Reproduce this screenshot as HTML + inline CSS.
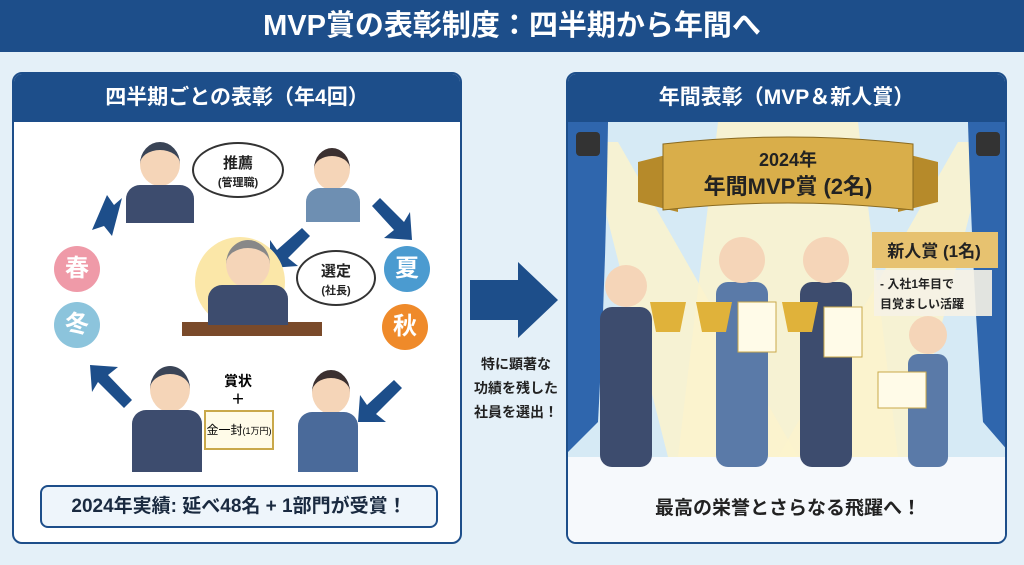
<!DOCTYPE html><html><head><meta charset="utf-8"><style>
*{margin:0;padding:0;box-sizing:border-box}
body{width:1024px;height:565px;background:#e4f0f8;font-family:"Liberation Sans","Noto Sans CJK JP",sans-serif;position:relative;overflow:hidden}
.abs{position:absolute}
.title{left:0;top:0;width:1024px;height:52px;background:#1d4e8a;color:#fff;font-size:29px;font-weight:bold;text-align:center;line-height:52px}
.panel{background:#fff;border:2px solid #1d4e8a;border-radius:10px;overflow:hidden}
.ph{background:#1d4e8a;color:#fff;font-size:21px;font-weight:bold;text-align:center;height:48px;line-height:48px}
.circ{border-radius:50%;color:#fff;font-size:24px;font-weight:bold;text-align:center;width:46px;height:46px;line-height:46px}
.bub{background:#fff;border:2px solid #333;border-radius:50%;text-align:center;font-weight:bold;font-size:15px;color:#222}
.head{background:#f5d5b8;border-radius:50%;border-top:8px solid #3a4456}
.suit{background:#3d4c6e;border-radius:14px 14px 0 0}
</style></head><body>
<div class="abs title">MVP賞の表彰制度：四半期から年間へ</div>

<div class="abs panel" style="left:12px;top:72px;width:450px;height:472px">
<div class="ph">四半期ごとの表彰（年4回）</div>
</div>
<svg class="abs" style="left:12px;top:120px" width="450" height="420">
<g fill="#1d4e8a">
<polygon points="80,110 95,75 102,85 110,78 100,116 92,106"/>
<polygon points="368,78 392,102 398,92 400,120 372,118 382,110 360,86"/>
<polygon points="290,108 265,130 258,120 258,148 286,146 276,138 298,116"/>
<polygon points="382,260 355,285 348,275 346,302 374,302 364,294 390,268"/>
<polygon points="112,288 86,262 80,272 78,245 106,247 96,255 120,280"/>
</g>
<circle cx="228" cy="162" r="45" fill="#fbe7a8"/>
<rect x="170" y="202" width="140" height="14" fill="#7a4a2a"/>
</svg>
<div class="abs head" style="left:140px;top:142px;width:40px;height:44px"></div>
<div class="abs suit" style="left:126px;top:185px;width:68px;height:38px"></div>
<div class="abs head" style="left:314px;top:148px;width:36px;height:42px;border-top-color:#3b3030"></div>
<div class="abs suit" style="left:306px;top:188px;width:54px;height:34px;background:#6e8fb2"></div>
<div class="abs head" style="left:226px;top:240px;width:44px;height:48px;border-top-color:#888"></div>
<div class="abs suit" style="left:208px;top:285px;width:80px;height:40px"></div>
<div class="abs bub" style="left:192px;top:142px;width:92px;height:56px;padding-top:8px">推薦<br><span style="font-size:11px">(管理職)</span></div>
<div class="abs bub" style="left:296px;top:250px;width:80px;height:56px;padding-top:8px">選定<br><span style="font-size:11px">(社長)</span></div>
<div class="abs circ" style="left:54px;top:246px;background:#ef9aa8">春</div>
<div class="abs circ" style="left:54px;top:302px;background:#8cc4dc">冬</div>
<div class="abs circ" style="left:384px;top:246px;background:#4b9bd0">夏</div>
<div class="abs circ" style="left:382px;top:304px;background:#ef8a2a">秋</div>
<div class="abs head" style="left:150px;top:366px;width:40px;height:46px"></div>
<div class="abs suit" style="left:132px;top:410px;width:70px;height:62px"></div>
<div class="abs head" style="left:312px;top:370px;width:38px;height:44px;border-top-color:#3b3030"></div>
<div class="abs suit" style="left:298px;top:412px;width:60px;height:60px;background:#4a6a9a"></div>
<div class="abs" style="left:218px;top:372px;font-size:14px;font-weight:bold;text-align:center;width:40px;line-height:18px">賞状<br>＋</div>
<div class="abs" style="left:204px;top:410px;width:70px;height:40px;background:#fffbe8;border:2px solid #c9a84a;font-size:12px;line-height:36px;text-align:center">金一封<span style="font-size:9px">(1万円)</span></div>
<div class="abs" style="left:40px;top:485px;width:398px;height:43px;border:2px solid #1d4e8a;border-radius:8px;background:#eef5fb;font-size:19px;font-weight:bold;text-align:center;line-height:39px;color:#1a2a40">2024年実績: 延べ48名 + 1部門が受賞！</div>

<svg class="abs" style="left:470px;top:262px" width="90" height="76"><polygon points="0,18 48,18 48,0 88,38 48,76 48,58 0,58" fill="#1d4e8a"/></svg>
<div class="abs" style="left:466px;top:352px;width:100px;font-size:14px;font-weight:bold;text-align:center;line-height:24px;color:#222">特に顕著な<br>功績を残した<br>社員を選出！</div>

<div class="abs panel" style="left:566px;top:72px;width:441px;height:472px">
<div class="ph">年間表彰（MVP＆新人賞）</div>
<svg width="441" height="424" style="display:block">
<rect width="441" height="335" fill="#d6eaf5"/>
<polygon points="150,0 290,0 330,335 110,335" fill="#fbf3cc" opacity=".85"/>
<polygon points="20,20 50,20 230,335 100,335" fill="#fbf3cc" opacity=".85"/>
<polygon points="390,20 420,20 340,335 210,335" fill="#fbf3cc" opacity=".85"/>
<rect y="335" width="441" height="89" fill="#f6f9fc"/>
<path d="M0,0 L40,0 Q38,150 30,300 L0,330Z" fill="#2f66ad"/>
<path d="M441,0 L400,0 Q404,150 415,300 L441,330Z" fill="#2f66ad"/>
<rect x="8" y="10" width="24" height="24" fill="#333" rx="4"/><rect x="408" y="10" width="24" height="24" fill="#333" rx="4"/>
<polygon points="70,40 110,30 110,90 70,80" fill="#b68a2a"/><polygon points="370,40 330,30 330,90 370,80" fill="#b68a2a"/>
<path d="M95,22 Q220,8 345,22 L345,88 Q220,74 95,88Z" fill="#d9ae4a" stroke="#8a6a20"/>
<text x="220" y="44" text-anchor="middle" font-size="18" font-weight="bold" fill="#222">2024年</text>
<text x="220" y="72" text-anchor="middle" font-size="22" font-weight="bold" fill="#222">年間MVP賞 (2名)</text>
<rect x="304" y="110" width="126" height="36" fill="#e7c270"/>
<text x="366" y="135" text-anchor="middle" font-size="17" font-weight="bold" fill="#222">新人賞 (1名)</text>
<rect x="306" y="148" width="118" height="46" fill="#f6f2e6" opacity=".9"/>
<text x="312" y="166" font-size="12" font-weight="bold" fill="#222">- 入社1年目で</text>
<text x="312" y="186" font-size="12" font-weight="bold" fill="#222">目覚ましい活躍</text>
<g fill="#3d4c6e">
<rect x="32" y="185" width="52" height="160" rx="12"/><rect x="148" y="160" width="52" height="185" rx="12" fill="#5a7aa8"/>
<rect x="232" y="160" width="52" height="185" rx="12"/><rect x="340" y="232" width="40" height="113" rx="10" fill="#5a7aa8"/>
</g>
<g fill="#f5d5b8"><circle cx="58" cy="164" r="21"/><circle cx="174" cy="138" r="23"/><circle cx="258" cy="138" r="23"/><circle cx="360" cy="213" r="19"/></g>
<g fill="#e0b23a"><path d="M82,180h36l-6,30h-24z"/><path d="M128,180h36l-6,30h-24z"/><path d="M214,180h36l-6,30h-24z"/></g>
<rect x="170" y="180" width="38" height="50" fill="#fffbe8" stroke="#c9a84a"/><rect x="256" y="185" width="38" height="50" fill="#fffbe8" stroke="#c9a84a"/>
<rect x="310" y="250" width="48" height="36" fill="#fffbe8" stroke="#c9a84a"/>
<text x="220" y="392" text-anchor="middle" font-size="19" font-weight="bold" fill="#222">最高の栄誉とさらなる飛躍へ！</text>
</svg>
</div>
</body></html>
